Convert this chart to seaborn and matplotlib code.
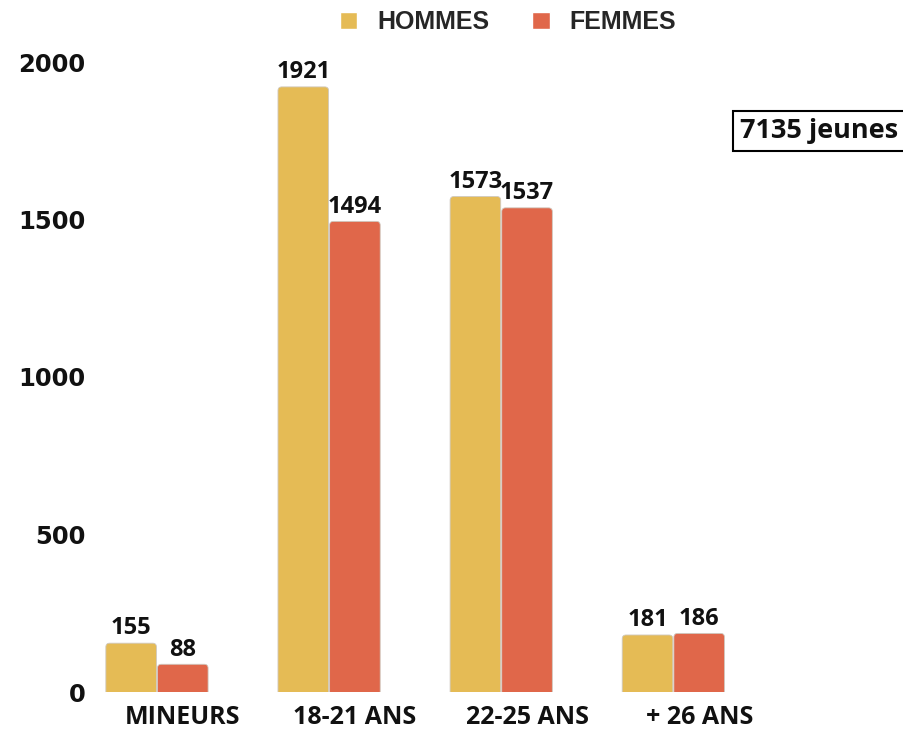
import pandas as pd
import matplotlib
matplotlib.use("Agg")
import matplotlib.pyplot as plt
import matplotlib.transforms as mtrans
import seaborn as sns
from matplotlib.patches import Patch, FancyBboxPatch

# data
categories = ["MINEURS", "18-21 ANS", "22-25 ANS", "+ 26 ANS"]
hommes = [155, 1921, 1573, 181]
femmes = [88, 1494, 1537, 186]
total_label = "7135 jeunes"

colors = {"HOMMES": "#E5BB55", "FEMMES": "#E0674A"}

df = pd.DataFrame({
    "cat": categories * 2,
    "sexe": ["HOMMES"] * len(categories) + ["FEMMES"] * len(categories),
    "n": hommes + femmes,
})

sns.set_style("white")
plt.rcParams["font.family"] = ["Open Sans", "DejaVu Sans"]

fig = plt.figure(figsize=(9.04, 7.31), dpi=100)
ax = fig.add_axes([95 / 904, (731 - 692) / 731, (904 - 95) / 904, 630 / 731])

sns.barplot(data=df, x="cat", y="n", hue="sexe", palette=colors, width=0.6, saturation=1,
            edgecolor="white", linewidth=1, ax=ax, legend=False)

ax.set_ylim(0, 2000)
ax.set_xlim(-0.36, 4.34)

for c in ax.containers:
    ax.bar_label(c, padding=2, fontsize=17, fontweight="bold", color="#111111")

# swap the square bars for ones with slightly rounded tops
rx = 0.022
aspect = (2000 / 630) / (4.7 / 809)
for p in list(ax.patches):
    x, w, h = p.get_x(), p.get_width(), p.get_height()
    ext = rx * aspect
    fb = FancyBboxPatch((x + 0.003, -ext), w - 0.006, h + ext,
                        boxstyle=f"round,pad=0,rounding_size={rx}", mutation_aspect=aspect,
                        facecolor=p.get_facecolor(), edgecolor="#cfc9c0", linewidth=0.6)
    p.set_visible(False)
    ax.add_patch(fb)

ax.set_yticks([0, 500, 1000, 1500, 2000])
ax.set_xlabel("")
ax.set_ylabel("")
ax.tick_params(axis="both", length=0)
ax.tick_params(axis="x", pad=9)
ax.tick_params(axis="y", pad=7)
# labels in the reference sit a bit to the right of the group centres
shift = mtrans.ScaledTranslation(26 / 100, 0, fig.dpi_scale_trans)
for lbl in ax.get_xticklabels():
    lbl.set_fontsize(18)
    lbl.set_fontweight("bold")
    lbl.set_color("#111111")
    lbl.set_transform(lbl.get_transform() + shift)
for lbl in ax.get_yticklabels():
    lbl.set_fontsize(17.5)
    lbl.set_fontweight("bold")
    lbl.set_family("DejaVu Sans")
    lbl.set_color("#111111")
sns.despine(ax=ax, left=True, bottom=True)

handles = [Patch(facecolor=colors["HOMMES"]), Patch(facecolor=colors["FEMMES"])]
fig.legend(handles, ["HOMMES", "FEMMES"], loc="center", bbox_to_anchor=(508 / 904, 1 - 22 / 731),
           ncol=2, frameon=False, handlelength=0.7, handleheight=0.7, handletextpad=0.8,
           columnspacing=1.7, prop={"family": "Liberation Sans", "weight": "bold", "size": 18})

fig.text(740 / 904, 1 - 131 / 731, total_label, fontsize=19.5, fontweight="bold", color="#111111",
         va="center", ha="left",
         bbox=dict(boxstyle="square,pad=0.25", facecolor="white", edgecolor="black", linewidth=1.5))

fig.savefig("out.png", dpi=100)
